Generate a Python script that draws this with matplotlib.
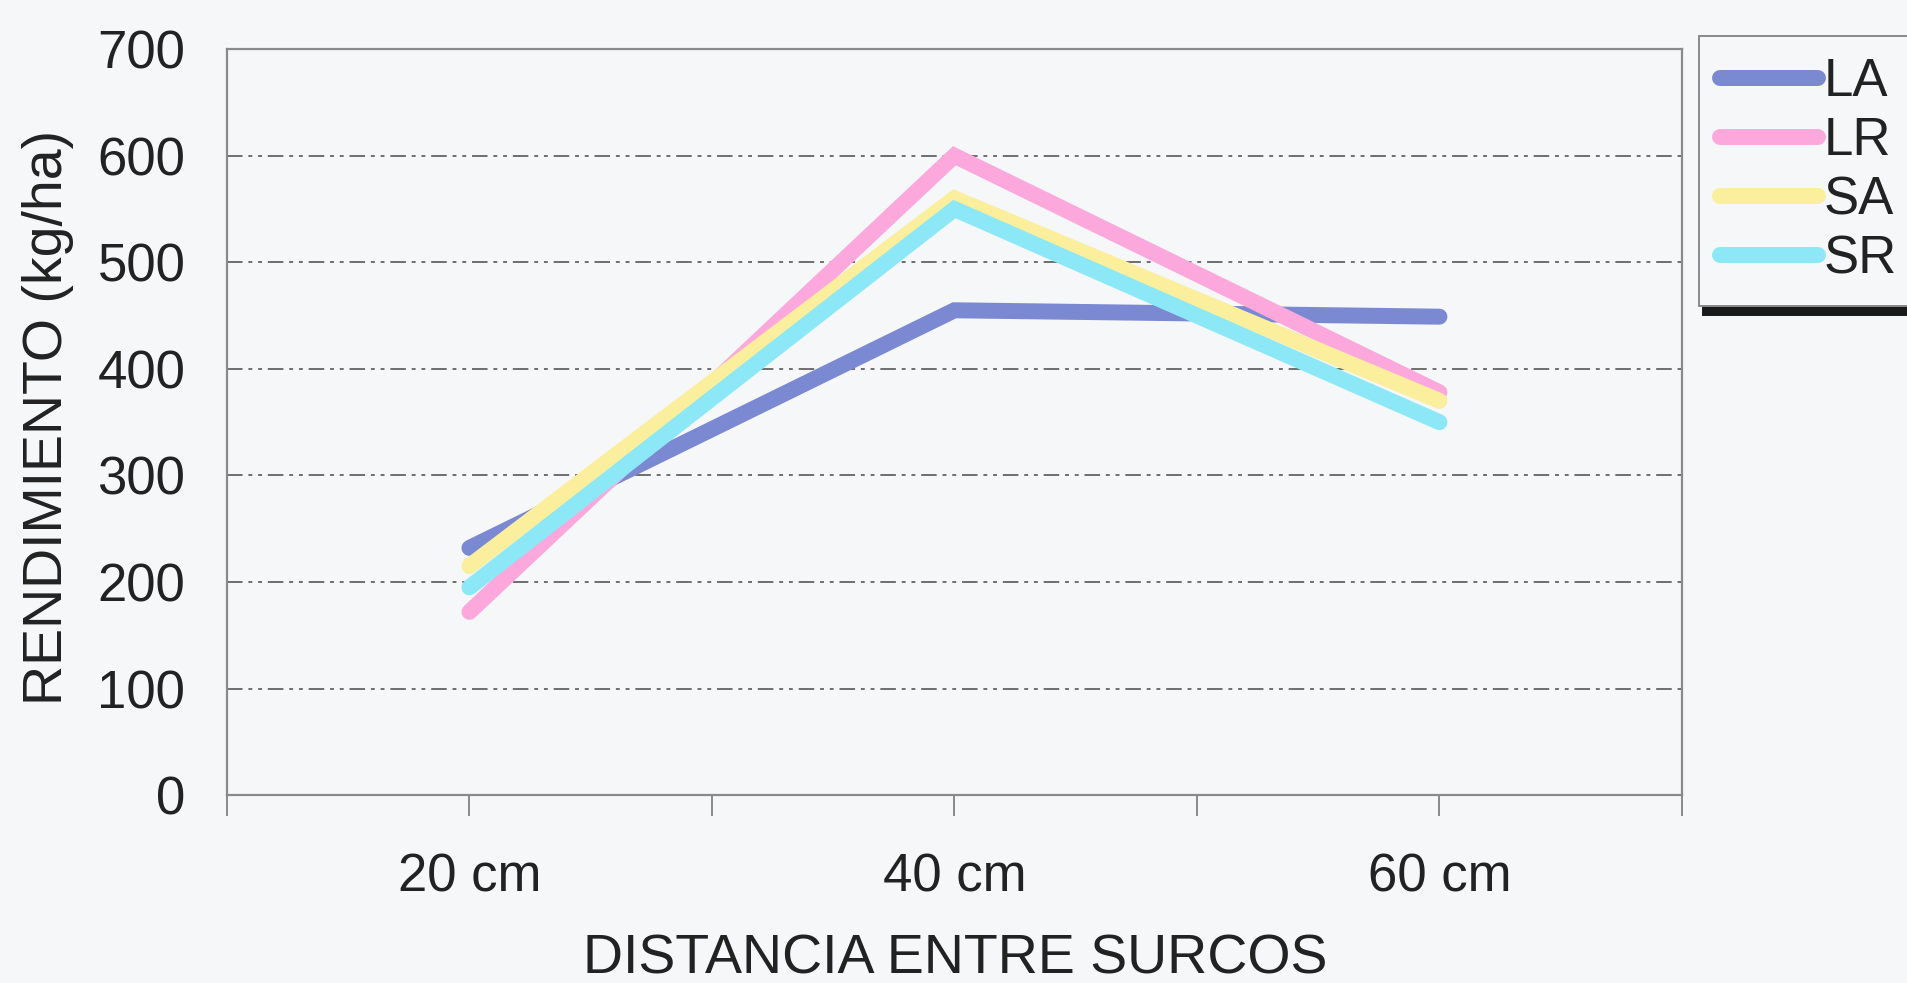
import matplotlib.pyplot as plt

# rendimiento por distancia entre surcos
distancias = ["20 cm", "40 cm", "60 cm"]
la = [232, 455, 449]
lr = [172, 600, 378]
sa = [215, 560, 370]
sr = [195, 550, 350]

series = [("LA", la, "#7b88d2"), ("LR", lr, "#fda8dc"),
          ("SA", sa, "#fbee9c"), ("SR", sr, "#8ce8f6")]

plt.rcParams['font.family'] = ['Liberation Sans', 'DejaVu Sans']
bg = "#f5f7f9"

fig = plt.figure(figsize=(19.07, 9.83), dpi=100, facecolor=bg)
ax = fig.add_axes([0.119, 0.191, 0.763, 0.759], facecolor=bg)

xpos = [1, 3, 5]
for name, vals, col in series:
    ax.plot(xpos, vals, color=col, lw=11.5, solid_capstyle='round',
            solid_joinstyle='miter', label=name, zorder=3)

ax.set_xlim(0, 6)
ax.set_ylim(0, 700)
ax.set_yticks(range(0, 701, 100))
ax.set_xticks(range(7))
ax.set_xticklabels(["", distancias[0], "", distancias[1], "", distancias[2], ""])

for y in range(100, 700, 100):
    ax.axhline(y, color="#6e6e6e", lw=1.4, ls=(0, (8, 3, 2, 3, 2, 3)), zorder=1)

for s in ax.spines.values():
    s.set_color("#8a8a8a")
    s.set_linewidth(1.6)

ax.tick_params(axis='y', length=0, pad=30, labelsize=38, colors="#8a8a8a",
               labelcolor="#222222")
ax.tick_params(axis='x', length=15, width=1.4, pad=26, labelsize=38,
               direction='out', colors="#8a8a8a", labelcolor="#222222")

fig.text(0.025, 0.575, "RENDIMIENTO (kg/ha)", rotation=90, fontsize=40,
         color="#222222", ha='center', va='center')
fig.text(0.501, 0.024, "DISTANCIA ENTRE SURCOS", fontsize=40,
         color="#222222", ha='center', va='center')

leg = ax.legend(loc='upper left', bbox_to_anchor=(0.891, 0.963),
                bbox_transform=fig.transFigure, fontsize=38,
                handlelength=1.85, handletextpad=0.1, labelspacing=0.17,
                borderpad=0.4, borderaxespad=0, fancybox=False,
                edgecolor="#8a8a8a", facecolor=bg, framealpha=1,
                shadow={'ox': 3, 'oy': -7, 'color': '#1a1a1a', 'alpha': 1})
leg.get_frame().set_linewidth(1.4)
for t in leg.get_texts():
    t.set_color("#222222")

fig.savefig("out.png", dpi=100, facecolor=bg)
